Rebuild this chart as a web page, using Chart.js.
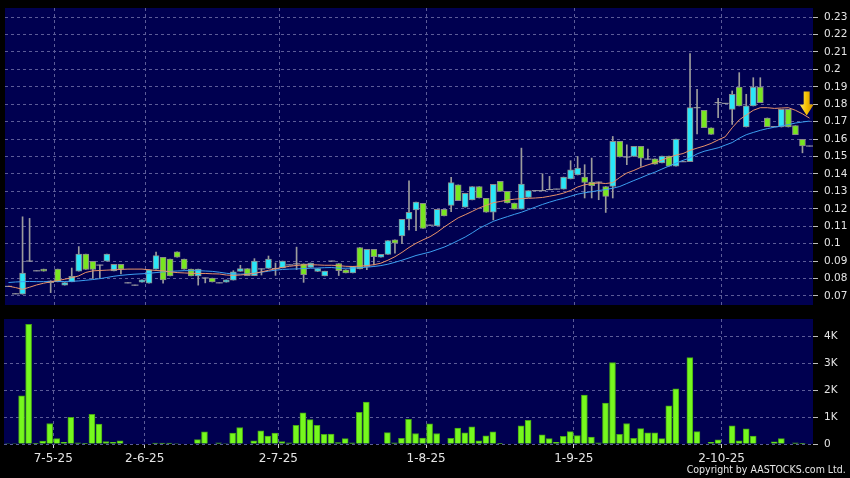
<!doctype html>
<html lang="en">
<head>
<meta charset="utf-8">
<title>Price and volume</title>
<style>
  html, body { margin: 0; padding: 0; background: #000; }
  #wrap { position: relative; width: 850px; height: 478px; overflow: hidden; background: #000; }
  #priceBox { position: absolute; left: 0; top: 0; width: 850px; height: 310px; }
  #volBox { position: absolute; left: 0; top: 310px; width: 850px; height: 168px; }
  #copy { position: absolute; right: 4px; top: 463px; color: #e6e6e6; font: 10.5px "DejaVu Sans", sans-serif;
          white-space: nowrap; transform: scaleX(0.9); transform-origin: right top; }
</style>
</head>
<body>
<div id="wrap">
  <div id="priceBox"><canvas id="priceChart" width="850" height="310"></canvas></div>
  <div id="volBox"><canvas id="volChart" width="850" height="168"></canvas></div>
  <div id="copy">Copyright by AASTOCKS.com Ltd.</div>
</div>
<script src="https://cdn.jsdelivr.net/npm/chart.js@4.4.1/dist/chart.umd.min.js"></script>
<script>
// daily candles, oldest first
var open = [0.0755,0.0712,0.071,0.09,0.0844,0.0854,0.0776,0.0854,0.0762,0.0781,
  0.0842,0.094,0.0898,0.0877,0.09,0.0844,0.0881,0.0775,0.0762,0.0779,
  0.0773,0.0854,0.0921,0.0911,0.0953,0.0911,0.0854,0.0815,0.0803,0.0802,
  0.0775,0.0779,0.0791,0.0841,0.0857,0.0816,0.0855,0.0858,0.0857,0.0861,
  0.0878,0.0884,0.0884,0.0864,0.084,0.0815,0.09,0.0886,0.085,0.0832,
  0.0978,0.0868,0.0968,0.0922,0.0938,0.1022,0.1045,0.114,0.1194,0.1232,
  0.1106,0.1102,0.1197,0.122,0.1337,0.1209,0.1251,0.1327,0.126,0.118,
  0.1357,0.13,0.1233,0.1198,0.1265,0.1304,0.1304,0.131,0.1313,0.1313,
  0.1371,0.1394,0.1382,0.1353,0.1353,0.1328,0.1328,0.1587,0.1497,0.1501,
  0.1558,0.1485,0.1487,0.1463,0.1502,0.1445,0.147,0.147,0.178,0.1765,
  0.1665,0.1809,0.1805,0.177,0.1899,0.1669,0.179,0.1899,0.1721,0.1671,
  0.1669,0.177,0.1677,0.1598,0.156];
var high = [0.0755,0.0712,0.1154,0.1145,0.0844,0.0854,0.0787,0.0854,0.0777,0.086,
  0.0983,0.094,0.0898,0.0877,0.094,0.0881,0.0881,0.0775,0.0762,0.0792,
  0.085,0.0952,0.0921,0.0911,0.0953,0.0911,0.0854,0.0854,0.0803,0.0802,
  0.0775,0.0792,0.0845,0.0876,0.0857,0.0914,0.0855,0.0929,0.0889,0.09,
  0.0878,0.098,0.0884,0.0889,0.0857,0.0842,0.09,0.0886,0.085,0.0868,
  0.0978,0.0968,0.0968,0.0938,0.1018,0.1022,0.114,0.136,0.1238,0.1232,
  0.1106,0.1197,0.1197,0.138,0.1337,0.1289,0.1327,0.1327,0.126,0.134,
  0.1357,0.13,0.1233,0.1548,0.1304,0.1304,0.1401,0.1386,0.1313,0.1382,
  0.1476,0.15,0.1453,0.1491,0.1353,0.1328,0.1615,0.1587,0.1567,0.1558,
  0.1558,0.1543,0.1487,0.1502,0.1502,0.16,0.147,0.209,0.1885,0.1765,
  0.1665,0.1834,0.1805,0.1876,0.1981,0.1857,0.1952,0.1952,0.1721,0.1671,
  0.177,0.177,0.1677,0.1598,0.156];
var low = [0.0755,0.0712,0.071,0.09,0.0844,0.0842,0.0719,0.0781,0.0762,0.0781,
  0.0842,0.0852,0.08,0.08,0.09,0.0844,0.0827,0.0775,0.0762,0.0779,
  0.0773,0.0854,0.0773,0.0815,0.0923,0.0854,0.0815,0.0762,0.0775,0.078,
  0.0775,0.0779,0.0791,0.0841,0.0816,0.0816,0.082,0.0858,0.0818,0.0861,
  0.0878,0.0851,0.0778,0.0864,0.084,0.0815,0.09,0.0817,0.0832,0.0832,
  0.0855,0.085,0.0878,0.0922,0.0938,0.0945,0.1,0.1079,0.1075,0.1087,
  0.1106,0.1102,0.1159,0.1184,0.1247,0.1209,0.1251,0.1262,0.118,0.1136,
  0.13,0.1233,0.1198,0.1198,0.1265,0.1304,0.1304,0.131,0.1313,0.1313,
  0.1371,0.1394,0.1262,0.1262,0.1252,0.1179,0.1262,0.1497,0.1453,0.1501,
  0.1443,0.1485,0.1456,0.1463,0.1445,0.1445,0.147,0.147,0.163,0.1665,
  0.1627,0.1723,0.1805,0.1684,0.179,0.1669,0.179,0.1809,0.1671,0.1671,
  0.1669,0.1669,0.1625,0.1521,0.156];
var close = [0.0755,0.0712,0.0831,0.09,0.0844,0.0842,0.0787,0.0781,0.0777,0.0813,
  0.094,0.0852,0.0852,0.0877,0.094,0.0881,0.0854,0.0775,0.0762,0.0792,
  0.085,0.0931,0.0792,0.0815,0.0923,0.0854,0.0815,0.0854,0.0803,0.078,
  0.0775,0.0792,0.0838,0.0857,0.0816,0.09,0.0855,0.0911,0.0857,0.09,
  0.0878,0.0884,0.0822,0.0889,0.0857,0.0842,0.09,0.0845,0.0832,0.0868,
  0.0855,0.0968,0.0926,0.0938,0.1018,0.1003,0.114,0.118,0.1238,0.1087,
  0.1106,0.1197,0.1159,0.135,0.1247,0.1289,0.1327,0.1262,0.118,0.134,
  0.13,0.1233,0.1198,0.1342,0.1304,0.1304,0.1304,0.131,0.1313,0.1382,
  0.1424,0.1434,0.1351,0.1332,0.1353,0.1271,0.1587,0.1497,0.1497,0.1558,
  0.1491,0.1485,0.1456,0.1502,0.1445,0.16,0.147,0.178,0.178,0.1665,
  0.1627,0.1809,0.1805,0.1857,0.179,0.179,0.1899,0.1809,0.1671,0.1671,
  0.177,0.1669,0.1625,0.156,0.156];
// moving averages
var ma10 = [0.0756,0.0748,0.0738,0.075,0.0763,0.0773,0.0781,0.0788,0.0796,0.0804,
  0.0815,0.0835,0.0844,0.0846,0.0848,0.085,0.0852,0.0854,0.0854,0.0854,
  0.085,0.0846,0.0844,0.0838,0.0834,0.0832,0.083,0.0829,0.0829,0.0827,
  0.0826,0.082,0.0818,0.082,0.0824,0.083,0.0838,0.0847,0.0856,0.0864,
  0.087,0.0875,0.0878,0.0879,0.0878,0.0876,0.0876,0.0874,0.087,0.0869,
  0.0871,0.0874,0.0879,0.0888,0.0905,0.0925,0.095,0.0978,0.1002,0.1022,
  0.104,0.1065,0.1095,0.1122,0.1148,0.1166,0.1185,0.1205,0.122,0.1235,
  0.1242,0.125,0.1255,0.1258,0.126,0.1262,0.1265,0.1272,0.128,0.129,
  0.1305,0.1325,0.1338,0.1344,0.1348,0.1345,0.135,0.138,0.1405,0.142,
  0.1438,0.1452,0.1465,0.148,0.1495,0.1508,0.1517,0.1535,0.1548,0.156,
  0.1575,0.1595,0.1613,0.1665,0.171,0.1738,0.1765,0.178,0.178,0.1776,
  0.1778,0.178,0.1765,0.1745,0.172];
var ma20 = [0.0777,0.078,0.0782,0.0783,0.0782,0.0782,0.0783,0.0783,0.0783,0.0784,
  0.0786,0.079,0.0794,0.0799,0.0806,0.0813,0.0818,0.0822,0.0825,0.0827,
  0.083,0.0834,0.0838,0.0841,0.0843,0.0845,0.0845,0.0845,0.0843,0.0841,
  0.0836,0.083,0.0826,0.0825,0.0826,0.083,0.0836,0.0842,0.0848,0.0852,
  0.0854,0.0855,0.0857,0.0859,0.086,0.0862,0.0863,0.0859,0.0859,0.086,
  0.0862,0.0865,0.0869,0.0874,0.0882,0.0893,0.0905,0.0918,0.0932,0.0942,
  0.0952,0.0966,0.098,0.0998,0.1018,0.1038,0.1062,0.1088,0.1108,0.1128,
  0.1142,0.1155,0.1168,0.118,0.1195,0.121,0.1225,0.1238,0.125,0.126,
  0.1272,0.1284,0.1292,0.1298,0.1305,0.131,0.1318,0.1328,0.1345,0.1362,
  0.1378,0.1395,0.141,0.1428,0.1445,0.1462,0.1478,0.1492,0.1515,0.153,
  0.154,0.155,0.1565,0.158,0.1605,0.1625,0.1638,0.165,0.166,0.1668,
  0.1675,0.1683,0.1692,0.1698,0.1703];
// volume in thousands
var volume = [0.02,0.02,1.78,4.43,0.01,0.11,0.76,0.2,0.06,0.99,
  0.04,0.01,1.1,0.74,0.09,0.06,0.12,0,0,0,
  0,0.03,0.03,0.03,0.02,0,0,0.16,0.45,0,
  0.04,0.02,0.4,0.61,0,0.12,0.49,0.29,0.4,0.09,
  0.04,0.69,1.15,0.9,0.69,0.36,0.37,0.05,0.2,0.04,
  1.17,1.55,0,0,0.42,0.04,0.21,0.91,0.39,0.22,
  0.75,0.39,0,0.21,0.59,0.41,0.64,0.12,0.3,0.45,
  0.01,0,0,0.67,0.88,0,0.34,0.2,0.06,0.28,
  0.46,0.31,1.81,0.26,0.04,1.52,3.02,0.36,0.76,0.21,
  0.57,0.41,0.41,0.2,1.41,2.04,0,3.2,0.46,0,
  0.06,0.15,0,0.67,0.12,0.56,0.29,0,0,0.08,
  0.2,0,0.04,0.01,0];

var tickIndex = [7, 20, 39, 60, 81, 102];
var tickText = ['7-5-25', '2-6-25', '2-7-25', '1-8-25', '1-9-25', '2-10-25'];
var priceTicks = [0.07,0.08,0.09,0.1,0.11,0.12,0.13,0.14,0.15,0.16,0.17,0.18,0.19,0.2,0.21,0.22,0.23];
var volTicks = [0, 1, 2, 3, 4];
var volTickText = ['0', '1K', '2K', '3K', '4K'];
var arrowMark = { index: 113.6, value: 0.1735 };

var navy = '#000050';
var gridColor = '#5c5c98';
var textColor = '#e4e4e4';
var fontFamily = '"DejaVu Sans", sans-serif';

var days = open.map(function(v, i) { return i; });
var wickData = low.map(function(v, i) { return [low[i], high[i]]; });
var bodyData = open.map(function(v, i) { return open[i] === close[i] ? null : [open[i], close[i]]; });
var dojiData = open.map(function(v, i) { return open[i] === close[i] ? close[i] : null; });
var bodyColors = open.map(function(v, i) { return close[i] > open[i] ? '#2ae6f8' : '#78e620'; });

function hasLabel(i) { return tickIndex.indexOf(i) >= 0; }

var plotBg = {
	id: 'plotBg',
	beforeDraw: function(chart) {
		var a = chart.chartArea, c = chart.ctx;
		c.save();
		c.fillStyle = navy;
		c.fillRect(a.left, a.top, a.right - a.left, a.bottom - a.top);
		c.restore();
	}
};

var downArrow = {
	id: 'downArrow',
	afterDatasetsDraw: function(chart) {
		var c = chart.ctx;
		var x = chart.scales.x.getPixelForValue(arrowMark.index);
		var y = chart.scales.y.getPixelForValue(arrowMark.value);
		var g = c.createLinearGradient(x - 7, 0, x + 7, 0);
		g.addColorStop(0, '#ffe866');
		g.addColorStop(0.5, '#f5c000');
		g.addColorStop(1, '#c98c00');
		c.save();
		c.beginPath();
		c.moveTo(x, y);
		c.lineTo(x - 7, y - 11);
		c.lineTo(x - 3, y - 11);
		c.lineTo(x - 3, y - 24);
		c.lineTo(x + 3, y - 24);
		c.lineTo(x + 3, y - 11);
		c.lineTo(x + 7, y - 11);
		c.closePath();
		c.fillStyle = g;
		c.fill();
		c.restore();
	}
};

function xAxis(showLabels) {
	return {
		type: 'category',
		offset: true,
		grid: {
			offset: true,
			color: function(ctx) { return hasLabel(ctx.index) ? gridColor : 'rgba(0,0,0,0)'; },
			drawTicks: showLabels,
			tickLength: 4,
			tickColor: function(ctx) { return hasLabel(ctx.index) ? '#d0d0d0' : 'rgba(0,0,0,0)'; }
		},
		border: { display: false, dash: [3, 3] },
		ticks: {
			display: showLabels,
			autoSkip: false,
			maxRotation: 0,
			minRotation: 0,
			labelOffset: -3.5,
			padding: 4,
			color: textColor,
			font: { family: fontFamily, size: 12 },
			callback: function(v, i) { var k = tickIndex.indexOf(i); return k < 0 ? '' : tickText[k]; }
		},
		afterFit: function(s) { s.height = showLabels ? 34 : 0; s.paddingLeft = 0; s.paddingRight = 0; }
	};
}

function yAxis(min, max, tickValues, format) {
	return {
		position: 'right',
		min: min,
		max: max,
		afterBuildTicks: function(s) { s.ticks = tickValues.map(function(v) { return { value: v }; }); },
		grid: { color: gridColor, tickLength: 5, tickColor: '#bdbdbd' },
		border: { display: false, dash: [3, 3] },
		ticks: {
			padding: 6,
			color: textColor,
			font: { family: fontFamily, size: 10.5 },
			callback: format
		},
		afterFit: function(s) { s.width = 37; s.paddingTop = 0; s.paddingBottom = 0; }
	};
}

Chart.defaults.animation = false;
Chart.defaults.plugins.legend.display = false;
Chart.defaults.plugins.tooltip.enabled = false;

new Chart('priceChart', {
	type: 'bar',
	data: {
		labels: days,
		datasets: [
			{ type: 'line', data: ma10, borderColor: '#e8926a', borderWidth: 1, pointRadius: 0 },
			{ type: 'line', data: ma20, borderColor: '#3c9ff0', borderWidth: 1, pointRadius: 0 },
			{ type: 'line', data: dojiData, showLine: false, pointStyle: 'line', pointRadius: 3.5,
			  pointBorderColor: '#a8a8a8', pointBorderWidth: 1 },
			{ type: 'bar', data: bodyData, grouped: false, barThickness: 6, backgroundColor: bodyColors,
			  borderColor: '#8a8a8a', borderWidth: 1, borderSkipped: false },
			{ type: 'bar', data: wickData, grouped: false, barThickness: 1, backgroundColor: '#9c9c9c', borderWidth: 0 }
		]
	},
	options: {
		responsive: false,
		layout: { padding: { top: 8, left: 4, right: 0, bottom: 5 } },
		scales: {
			x: xAxis(false),
			y: yAxis(0.0648, 0.2352, priceTicks, function(v) { return String(+v.toFixed(2)); })
		}
	},
	plugins: [plotBg, downArrow]
});

new Chart('volChart', {
	type: 'bar',
	data: {
		labels: days,
		datasets: [
			{ data: volume, barThickness: 6, backgroundColor: '#76f81e', borderColor: '#46a616', borderWidth: 1 }
		]
	},
	options: {
		responsive: false,
		layout: { padding: { top: 9, left: 4, right: 0, bottom: 0 } },
		scales: {
			x: xAxis(true),
			y: yAxis(0, 4.63, volTicks, function(v, i) { return volTickText[i]; })
		}
	},
	plugins: [plotBg]
});
</script>
</body>
</html>
